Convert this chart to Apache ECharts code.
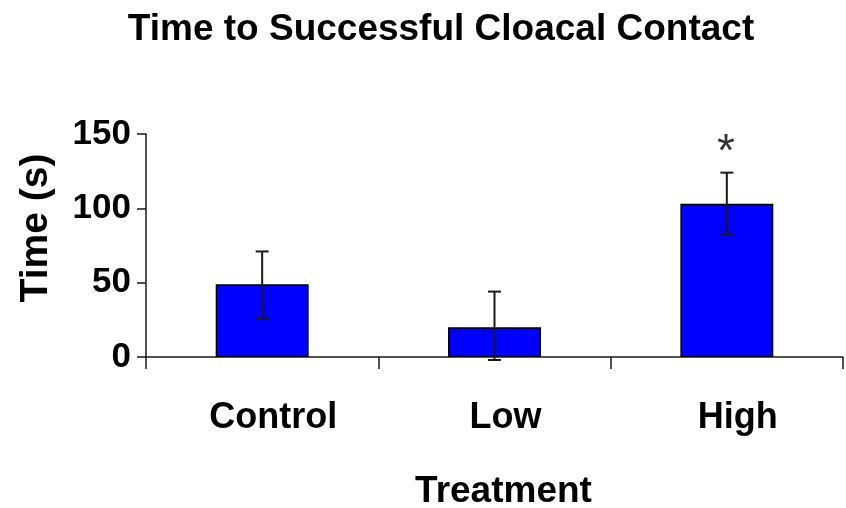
<!DOCTYPE html>
<html>
<head>
<meta charset="utf-8">
<script src="https://cdn.jsdelivr.net/npm/echarts@6/dist/echarts.min.js"></script>
<style>
html,body{margin:0;padding:0;background:#fff;}
#chart{width:846px;height:508px;}
</style>
</head>
<body>
<div id="chart"></div>
<script>
// ---- data ----
var chartTitle = 'Time to Successful Cloacal Contact';
var categories = ['Control', 'Low', 'High'];
var meanTime = [49, 20, 103];
var errLow = [26, -2, 82.5];
var errHigh = [71, 44, 124];
var significance = ['', '', '*'];
var yMin = 0, yMax = 150, yInterval = 50;
var xName = 'Treatment';
var yName = 'Time (s)';

var FONT = '"Liberation Sans", Arial, sans-serif';
var AXIS_COLOR = '#1a1a1a';

var errData = categories.map(function (c, i) {
  return [i, errLow[i], errHigh[i], significance[i]];
});

var chart = echarts.init(document.getElementById('chart'), null, {renderer: 'canvas'});
chart.setOption({
  backgroundColor: '#ffffff',
  animation: false,
  title: {
    text: chartTitle,
    left: 441,
    top: 11,
    padding: 0,
    textAlign: 'center',
    textStyle: {fontFamily: FONT, fontSize: 37, fontWeight: 'bold', color: '#000', lineHeight: 37}
  },
  grid: {left: 146, right: 3, top: 134, bottom: 151, containLabel: false, outerBoundsMode: 'none'},
  xAxis: {
    type: 'category',
    data: categories,
    boundaryGap: true,
    name: xName,
    nameLocation: 'middle',
    nameGap: 116,
    nameTextStyle: {fontFamily: FONT, fontSize: 37, fontWeight: 'bold', color: '#000', lineHeight: 37, padding: [0, 0, 0, 18]},
    axisLine: {show: true, lineStyle: {color: AXIS_COLOR, width: 1.5}},
    axisTick: {show: true, alignWithLabel: false, length: 12, inside: false, lineStyle: {color: AXIS_COLOR, width: 1.5}},
    axisLabel: {fontFamily: FONT, fontSize: 36, fontWeight: 'bold', color: '#000', margin: 43, lineHeight: 36, padding: [0, 0, 0, 22]},
    splitLine: {show: false}
  },
  yAxis: {
    type: 'value',
    min: yMin,
    max: yMax,
    interval: yInterval,
    name: yName,
    nameLocation: 'middle',
    nameRotate: 90,
    nameGap: 90,
    nameTextStyle: {fontFamily: FONT, fontSize: 39, fontWeight: 'bold', color: '#000', lineHeight: 39, padding: [0, 0, 0, 35]},
    axisLine: {show: true, lineStyle: {color: AXIS_COLOR, width: 1.5}},
    axisTick: {show: true, length: 9, inside: false, lineStyle: {color: AXIS_COLOR, width: 1.5}},
    axisLabel: {fontFamily: FONT, fontSize: 35, fontWeight: 'bold', color: '#000', margin: 15, padding: [6, 0, 0, 0]},
    splitLine: {show: false}
  },
  series: [
    {
      type: 'bar',
      data: meanTime,
      barWidth: '40%',
      itemStyle: {color: '#0000ff', borderColor: '#000', borderWidth: 1.5},
      z: 2
    },
    {
      type: 'custom',
      data: errData,
      encode: {x: 0, y: [1, 2]},
      z: 3,
      renderItem: function (params, api) {
        var i = api.value(0);
        var lo = api.coord([i, api.value(1)]);
        var hi = api.coord([i, api.value(2)]);
        var hw = 6.5;
        var st = {stroke: '#1a1a1a', lineWidth: 2};
        var children = [
          {type: 'line', shape: {x1: lo[0], y1: lo[1], x2: hi[0], y2: hi[1]}, style: st},
          {type: 'line', shape: {x1: hi[0] - hw, y1: hi[1], x2: hi[0] + hw, y2: hi[1]}, style: st},
          {type: 'line', shape: {x1: lo[0] - hw, y1: lo[1], x2: lo[0] + hw, y2: lo[1]}, style: st}
        ];
        var mark = significance[params.dataIndex];
        if (mark) {
          children.push({
            type: 'text',
            x: hi[0] - 1, y: hi[1] + 4,
            style: {text: mark, fill: '#333', font: 'normal 46px ' + FONT, align: 'center', verticalAlign: 'bottom'}
          });
        }
        return {type: 'group', children: children};
      }
    }
  ]
});
</script>
</body>
</html>
